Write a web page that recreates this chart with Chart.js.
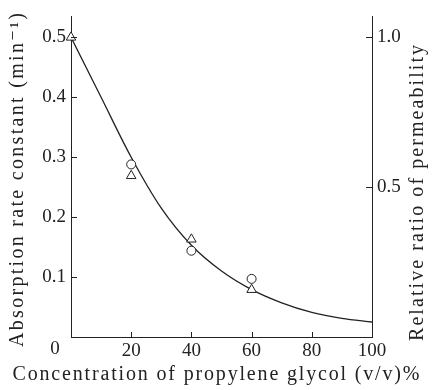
<!DOCTYPE html>
<html>
<head>
<meta charset="utf-8">
<script src="https://cdn.jsdelivr.net/npm/chart.js@4.4.1/dist/chart.umd.min.js"></script>
<style>
html,body{margin:0;padding:0;background:#fff;}
#wrap{width:435px;height:390px;position:relative;}
</style>
</head>
<body>
<div id="wrap"><canvas id="c" width="435" height="390"></canvas></div>
<script>
// ---- data ----
const concentration = [0, 20, 40, 60];
const absorptionRate = [null, 0.288, 0.144, 0.097];      // circles, left axis (min^-1)
const relativeRatio = [1.0, 0.538, 0.326, 0.158];          // triangles, right axis
const curveX = [0, 10, 20, 30, 40, 50, 60, 70, 80, 90, 100];
const curveY = [0.5, 0.40, 0.300, 0.215, 0.153, 0.110, 0.079, 0.057, 0.041, 0.031, 0.025];
const xTicks = [0, 20, 40, 60, 80, 100];
const leftTicks = [0.1, 0.2, 0.3, 0.4, 0.5];
const rightTicks = [0.5, 1.0];
const xTitle = 'Concentration of propylene glycol (v/v)%';
const leftTitle = 'Absorption rate constant (min\u207B\u00B9)';
const rightTitle = 'Relative ratio of permeability';

const FONT = '"Liberation Serif", "DejaVu Serif", serif';
const INK = '#222';

function spacedText(ctx, text, cx, cy, target) {
  // draw text centred at (cx, cy) with letter spacing fitted to the target width
  const chars = Array.from(text);
  const widths = chars.map(ch => ctx.measureText(ch).width);
  const natural = widths.reduce((a, b) => a + b, 0);
  const sp = Math.max(0, (target - natural) / (chars.length - 1));
  let x = cx - (natural + sp * (chars.length - 1)) / 2;
  ctx.textAlign = 'left';
  chars.forEach((ch, i) => { ctx.fillText(ch, x, cy); x += widths[i] + sp; });
}

const decor = {
  id: 'decor',
  afterDraw(chart) {
    const ctx = chart.ctx;
    const x = chart.scales.x, yl = chart.scales.y, yr = chart.scales.y2;
    const a = chart.chartArea;
    ctx.save();
    ctx.strokeStyle = INK;
    ctx.lineWidth = 1;
    // inward ticks
    xTicks.forEach(v => {
      if (v === 0 || v === 100) return;
      const px = Math.round(x.getPixelForValue(v)) + 0.5;
      ctx.beginPath(); ctx.moveTo(px, a.bottom); ctx.lineTo(px, a.bottom - 5); ctx.stroke();
    });
    leftTicks.forEach(v => {
      const py = Math.round(yl.getPixelForValue(v)) + 0.5;
      ctx.beginPath(); ctx.moveTo(a.left, py); ctx.lineTo(a.left + 6, py); ctx.stroke();
    });
    rightTicks.forEach(v => {
      const py = Math.round(yr.getPixelForValue(v)) + 0.5;
      ctx.beginPath(); ctx.moveTo(a.right, py); ctx.lineTo(a.right - 6, py); ctx.stroke();
    });
    ctx.fillStyle = INK;
    ctx.textBaseline = 'middle';
    // origin label
    ctx.font = '19px ' + FONT;
    ctx.textAlign = 'center';
    ctx.fillText('0', a.left - 16, a.bottom + 12);
    // axis titles
    ctx.font = '20px ' + FONT;
    spacedText(ctx, xTitle, 216, 375, 407);
    ctx.save();
    ctx.translate(18, 180);
    ctx.rotate(-Math.PI / 2);
    spacedText(ctx, leftTitle, 0, 0, 334);
    ctx.restore();
    ctx.save();
    ctx.translate(418, 193);
    ctx.rotate(-Math.PI / 2);
    spacedText(ctx, rightTitle, 0, 0, 296);
    ctx.restore();
    ctx.restore();
  }
};

new Chart(document.getElementById('c'), {
  type: 'line',
  data: {
    datasets: [
      {
        label: 'curve',
        data: curveX.map((v, i) => ({x: v, y: curveY[i]})),
        yAxisID: 'y',
        borderColor: INK,
        borderWidth: 1.3,
        pointRadius: 0,
        cubicInterpolationMode: 'monotone',
        fill: false,
        order: 3
      },
      {
        label: 'absorption rate constant',
        data: concentration.map((v, i) => ({x: v, y: absorptionRate[i]})),
        yAxisID: 'y',
        showLine: false,
        clip: false,
        pointStyle: 'circle',
        pointRadius: 4.5,
        pointBorderWidth: 1,
        pointBorderColor: INK,
        pointBackgroundColor: '#fff',
        order: 1
      },
      {
        label: 'relative ratio of permeability',
        data: concentration.map((v, i) => ({x: v, y: relativeRatio[i]})),
        yAxisID: 'y2',
        showLine: false,
        clip: false,
        pointStyle: 'triangle',
        pointRadius: 5.5,
        pointBorderWidth: 1,
        pointBorderColor: INK,
        pointBackgroundColor: '#fff',
        order: 2
      }
    ]
  },
  options: {
    responsive: false,
    animation: false,
    events: [],
    layout: {padding: {top: 14, left: 0, right: 0, bottom: 0}},
    plugins: {legend: {display: false}, tooltip: {enabled: false}},
    scales: {
      x: {
        type: 'linear', min: 0, max: 100,
        grid: {display: true, drawOnChartArea: false, drawTicks: false},
        border: {display: true, color: INK, width: 1},
        afterBuildTicks: s => { s.ticks = xTicks.map(v => ({value: v})); },
        afterFit: s => { s.height = 53; },
        ticks: {
          color: INK, font: {family: FONT, size: 19}, padding: 3, maxRotation: 0,
          callback: v => (v === 0 ? '' : String(v))
        },
        title: {display: false}
      },
      y: {
        type: 'linear', position: 'left', min: 0, max: 0.535,
        grid: {display: true, drawOnChartArea: false, drawTicks: false},
        border: {display: true, color: INK, width: 1},
        afterBuildTicks: s => { s.ticks = leftTicks.map(v => ({value: v})); },
        afterFit: s => { s.width = 71; },
        ticks: {color: INK, font: {family: FONT, size: 19}, padding: 5, callback: v => v.toFixed(1)},
        title: {display: false}
      },
      y2: {
        type: 'linear', position: 'right', min: 0, max: 1.07,
        grid: {display: true, drawOnChartArea: false, drawTicks: false},
        border: {display: true, color: INK, width: 1},
        afterBuildTicks: s => { s.ticks = rightTicks.map(v => ({value: v})); },
        afterFit: s => { s.width = 63; },
        ticks: {color: INK, font: {family: FONT, size: 19}, padding: 5, callback: v => v.toFixed(1)}
      }
    }
  },
  plugins: [decor]
});
</script>
</body>
</html>
